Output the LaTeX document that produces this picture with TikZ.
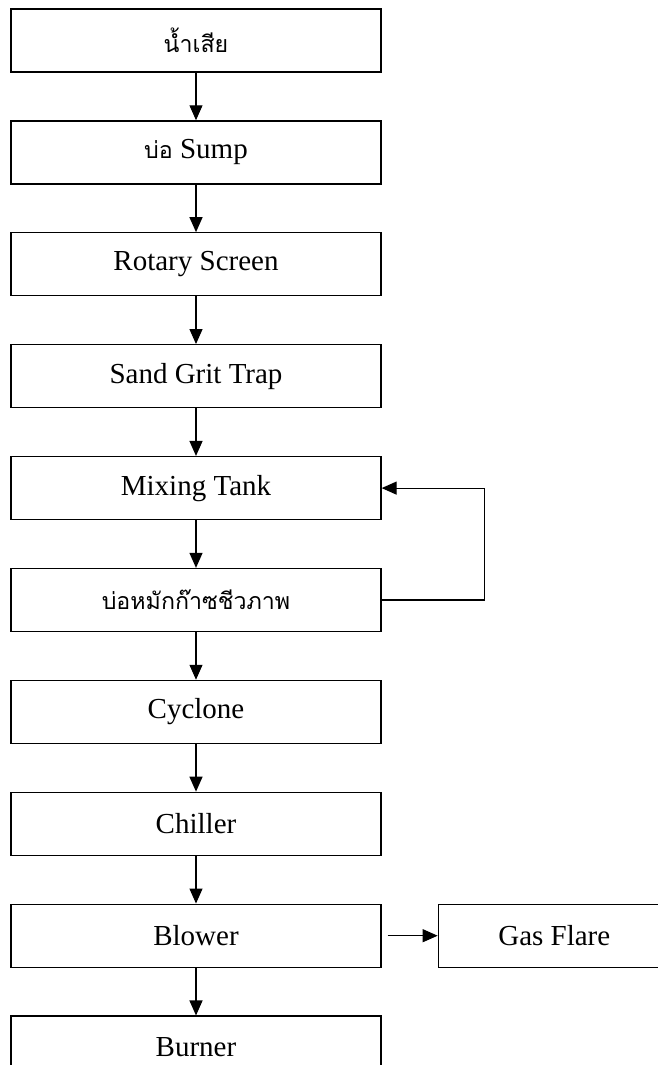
\documentclass[tikz,border=0pt]{standalone}
\usepackage{fontspec}
\setmainfont{Liberation Serif}
\newfontfamily\thaifont[Script=Thai,Scale=0.8]{Loma}
\usetikzlibrary{positioning, arrows.meta}

\begin{document}
\begin{tikzpicture}[node distance=47.6pt, >={Triangle[length=15pt,width=13pt]},
		box/.style={draw, line width=1.3pt, minimum width=370pt, minimum height=63pt, font=\fontsize{29}{34}\selectfont}]
				\useasboundingbox (0,0) rectangle (658pt,-1065pt);
				\node[box] (waste) at (196pt,-40.5pt) {\thaifont น้ำเสีย};
				\node[box, below=of waste] (sump) {{\thaifont บ่อ} Sump};
				\node[box, below=of sump] (screen) {Rotary Screen};
				\node[box, below=of screen] (grit) {Sand Grit Trap};
				\node[box, below=of grit] (mixing) {Mixing Tank};
				\node[box, below=of mixing] (digester) {\thaifont บ่อหมักก๊าซชีวภาพ};
				\node[box, below=of digester] (cyclone) {Cyclone};
				\node[box, below=of cyclone] (chiller) {Chiller};
				\node[box, below=of chiller] (blower) {Blower};
				\node[box, minimum width=232pt, right=56pt of blower] (flare) {Gas Flare};
				\node[box, below=of blower] (burner) {Burner};
				\path[->, line width=1.2pt] (waste) edge (sump)
					(sump) edge (screen)
					(screen) edge (grit)
					(grit) edge (mixing)
					(mixing) edge (digester)
					(digester) edge (cyclone)
					(cyclone) edge (chiller)
					(chiller) edge (blower)
					(blower) edge (burner)
					(blower) edge [shorten <=6pt] (flare);
				\draw[->, line width=1.2pt] (digester.east) -- ++(103pt,0) |- (mixing.east);
			\end{tikzpicture}
\end{document}
